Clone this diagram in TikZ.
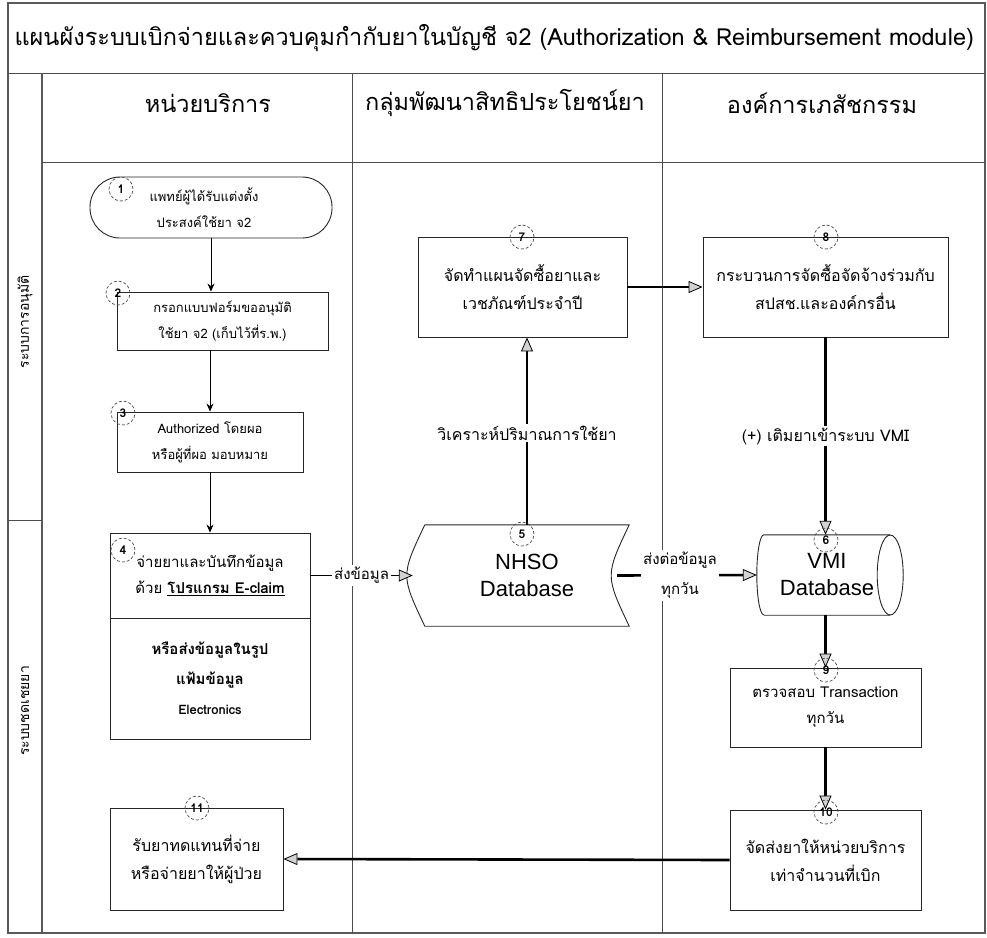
\documentclass[tikz,border=0pt]{standalone}
\usepackage{fontspec}
\setmainfont{Liberation Sans}
\newfontfamily\thai[Script=Thai]{Loma}
\usetikzlibrary{arrows.meta,shapes.geometric,calc}

\begin{document}
\begin{tikzpicture}[x=1pt,y=-1pt,
  outer/.style={draw=black!65, line width=1.6pt},
  lane/.style={draw=black!70, line width=0.6pt},
  box/.style={draw=black!85, line width=0.9pt, align=center, inner sep=0pt},
  num/.style={circle, draw=black!70, densely dashed, line width=0.7pt,
    minimum size=24pt, inner sep=0pt, font=\thai\fontsize{12}{12}\selectfont\bfseries},
  thinflow/.style={draw=black, line width=0.8pt, -{Stealth[length=8pt,width=7pt]}},
  flow/.style={draw=black, line width=2.6pt,
    -{Triangle[length=14pt,width=12pt,line width=0.8pt,fill=gray!35]}},
  lbl/.style={fill=white, inner sep=2pt, align=center},
  small/.style={font=\thai\fontsize{13}{26}\selectfont},
  mid/.style={font=\thai\fontsize{15}{26}\selectfont},
  big/.style={font=\thai\fontsize{16}{28}\selectfont},
  dbtext/.style={font=\fontsize{22}{27}\selectfont, align=center},
  head/.style={font=\thai\fontsize{23.5}{26}\selectfont},
  ]
\useasboundingbox (0,0) rectangle (987,937);

% frame, title row, swim lanes
\draw[outer] (8,3) rectangle (985,933);
\draw[lane] (8,73) -- (985,73);
\draw[outer] (42,73) -- (42,933);
\draw[lane] (42,162) -- (985,162);
\draw[lane] (8,520) -- (42,520);
\draw[lane] (352,73) -- (352,933);
\draw[lane] (662,73) -- (662,933);

\node[anchor=west, font=\thai\fontsize{23.5}{26}\selectfont] (title) at (11,38)
  {แผนผังระบบเบิกจ่ายและควบคุมกำกับยาในบัญชี จ2 (Authorization \& Reimbursement module)};

\node[head] (h1) at (208,103) {หน่วยบริการ};
\node[head] (h2) at (505,103) {กลุ่มพัฒนาสิทธิประโยชน์ยา};
\node[head] (h3) at (822,103) {องค์การเภสัชกรรม};

\node[rotate=90, font=\thai\fontsize{14}{16}\selectfont] (r1) at (25,322) {ระบบการอนุมัติ};
\node[rotate=90, font=\thai\fontsize{14}{16}\selectfont] (r2) at (25,711) {ระบบชดเชยยา};

% service unit lane
\node[box, small, rounded corners=30pt, minimum width=242pt, minimum height=61pt] (n1) at (211,207.5)
  {\hspace*{-14pt}แพทย์ผู้ได้รับแต่งตั้ง\\\hspace*{-14pt}ประสงค์ใช้ยา จ2};
\node[box, small, minimum width=211pt, minimum height=58pt] (n2) at (222.5,321)
  {กรอกแบบฟอร์มขออนุมัติ\\ใช้ยา จ2 (เก็บไว้ที่ร.พ.)};
\node[box, small, minimum width=186pt, minimum height=60pt] (n3) at (210,442)
  {Authorized โดยผอ\\หรือผู้ที่ผอ มอบหมาย};
\node[box, mid, minimum width=200pt, minimum height=85pt] (n4) at (210,575.5)
  {จ่ายยาและบันทึกข้อมูล\\ด้วย \underline{\bfseries โปรแกรม E-claim}};
\node[box, mid, minimum width=200pt, minimum height=121pt, font=\thai\fontsize{15}{30}\selectfont\bfseries] (n4b) at (210,678.5)
  {หรือส่งข้อมูลในรูป\\แฟ้มข้อมูล\\{\fontsize{13}{30}\selectfont Electronics}};
\node[box, big, minimum width=173pt, minimum height=102pt] (n11) at (196.5,859)
  {รับยาทดแทนที่จ่าย\\หรือจ่ายยาให้ผู้ป่วย};

% benefit development lane
\node[dbtext, minimum width=204pt, minimum height=101pt] (nhso) at (527,575.5) {NHSO\\Database};
\draw[draw=black!85, line width=0.9pt]
  (nhso.north west) -- (nhso.north east)
  .. controls ($(nhso.east)+(-24,0)$) .. (nhso.south east)
  -- (nhso.south west)
  .. controls ($(nhso.west)+(-24,0)$) .. (nhso.north west);
\coordinate (nhsoL) at ($(nhso.west)+(-12,0)$);
\coordinate (nhsoR) at ($(nhso.east)+(-12,0)$);
\node[box, big, minimum width=209pt, minimum height=100pt] (n7) at (522.5,287)
  {จัดทำแผนจัดซื้อยาและ\\เวชภัณฑ์ประจำปี};

% pharmaceutical organization lane
\node[box, big, minimum width=245pt, minimum height=100pt] (n8) at (825.5,287)
  {กระบวนการจัดซื้อจัดจ้างร่วมกับ\\สปสช.และองค์กรอื่น};
% VMI store drawn as a cylinder lying on its side
\node[dbtext, minimum width=126pt, minimum height=80pt, inner sep=0pt] (vmi) at (827,575) {VMI\\Database};
\draw[draw=black!85, line width=0.9pt]
  (vmi.north west) -- (vmi.north east)
  (vmi.south west) -- (vmi.south east)
  (vmi.north west) arc[start angle=270, end angle=90, x radius=7, y radius=40];
\draw[draw=black!85, line width=0.9pt] (vmi.east) ellipse[x radius=13, y radius=40];
\coordinate (vmiL) at ($(vmi.west)+(-7,0)$);
\node[box, mid, minimum width=191pt, minimum height=79pt] (n9) at (825.5,707.5)
  {ตรวจสอบ Transaction\\ทุกวัน};
\node[box, big, minimum width=191pt, minimum height=100pt] (n10) at (825.5,860)
  {จัดส่งยาให้หน่วยบริการ\\เท่าจำนวนที่เบิก};

% connectors
\draw[thinflow] (n1.south) -- (n1.south |- n2.north);
\draw[thinflow] (n3.north |- n2.south) -- (n3.north);
\draw[thinflow] (n3.south) -- (n3.south |- n4.north);
\draw[flow, line width=1.6pt] (n4.east) -- node[lbl, mid] {ส่งข้อมูล} (nhsoL);
\draw[flow] (nhso.north) -- node[lbl, big, pos=0.49] {วิเคราะห์ปริมาณการใช้ยา} (nhso.north |- n7.south);
\draw[flow] (n7.east) -- (n8.west);
\draw[flow] (n8.south) -- node[lbl, big] {(+) เติมยาเข้าระบบ VMI} (n8.south |- vmi.north);
\draw[flow] (nhsoR) -- node[lbl, mid, pos=0.45, font=\thai\fontsize{15}{30}\selectfont] {ส่งต่อข้อมูล\\ทุกวัน} (vmiL);
\draw[flow] (n9.north |- vmi.south) -- (n9.north);
\draw[flow] (n9.south) -- (n10.north);
\draw[flow] (n10.west) -- (n11.east);

% step numbers
\node[num] (c1) at (121,189) {1};
\node[num] (c2) at (118,293) {2};
\node[num] (c3) at (123,413) {3};
\node[num] (c4) at (123,550) {4};
\node[num] (c5) at (522,534) {5};
\node[num] (c6) at (826,540) {6};
\node[num] (c7) at (522,237) {7};
\node[num] (c8) at (826,237) {8};
\node[num] (c9) at (826,670) {9};
\node[num] (c10) at (826,812) {10};
\node[num] (c11) at (197,808) {11};
\end{tikzpicture}
\end{document}
